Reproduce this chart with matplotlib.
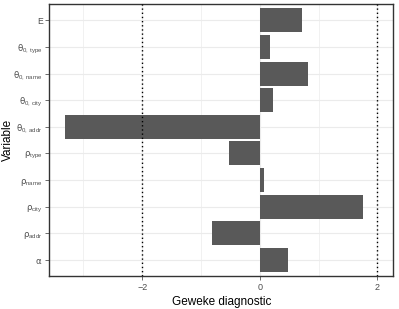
import matplotlib
matplotlib.use("Agg")
import matplotlib.pyplot as plt
import numpy as np

plt.rcParams['font.family'] = ['Liberation Sans', 'DejaVu Sans']
plt.rcParams['mathtext.fontset'] = 'custom'
plt.rcParams['mathtext.rm'] = 'Liberation Sans'
plt.rcParams['mathtext.it'] = 'DejaVu Sans'
plt.rcParams['mathtext.bf'] = 'Liberation Sans:bold'

# categories from bottom to top
labels = [r'$\alpha$', r'$\rho_{\mathrm{addr}}$', r'$\rho_{\mathrm{city}}$',
          r'$\rho_{\mathrm{name}}$', r'$\rho_{\mathrm{type}}$',
          r'$\theta_{\mathrm{0,\,addr}}$', r'$\theta_{\mathrm{0,\,city}}$',
          r'$\theta_{\mathrm{0,\,name}}$', r'$\theta_{\mathrm{0,\,type}}$', 'E']
values = [0.48, -0.82, 1.76, 0.07, -0.52, -3.31, 0.23, 0.82, 0.175, 0.71]
ref_lines = [-2, 2]
xticks = [-2, 0, 2]

fig = plt.figure(figsize=(3.99, 3.09), dpi=100)
ax = fig.add_axes([0.1236, 0.1068, 0.8621, 0.8792])

y = np.arange(1, len(labels) + 1)
ax.set_axisbelow(True)
ax.barh(y, values, height=0.9, color='#595959', zorder=2)
for v in ref_lines:
    ax.axvline(v, color='black', linestyle=(0, (1, 2)), linewidth=1.0, zorder=3)

ax.set_xlim(-3.58, 2.27)
ax.set_ylim(0.4, 10.6)
ax.set_xticks(xticks)
ax.set_xticklabels([u'\u22122', '0', '2'])
ax.set_xticks([-3, -1, 1], minor=True)
ax.set_yticks(y)
ax.set_yticklabels(labels)

ax.grid(True, which='major', color='#EBEBEB', linewidth=0.8)
ax.grid(True, which='minor', axis='x', color='#EBEBEB', linewidth=0.5)
ax.tick_params(which='minor', length=0)
ax.tick_params(which='major', length=2.75, width=0.5, color='#333333',
               labelcolor='#4D4D4D', labelsize=6.5, pad=2)
ax.tick_params(axis='y', labelsize=6.2)
for s in ax.spines.values():
    s.set_color('#333333')
    s.set_linewidth(1.0)

ax.set_xlabel('Geweke diagnostic', fontsize=8.5, labelpad=3)
ax.set_ylabel('Variable', fontsize=8.5)
ax.yaxis.set_label_coords(-0.102, 0.5)

fig.savefig('out.png', dpi=100)
